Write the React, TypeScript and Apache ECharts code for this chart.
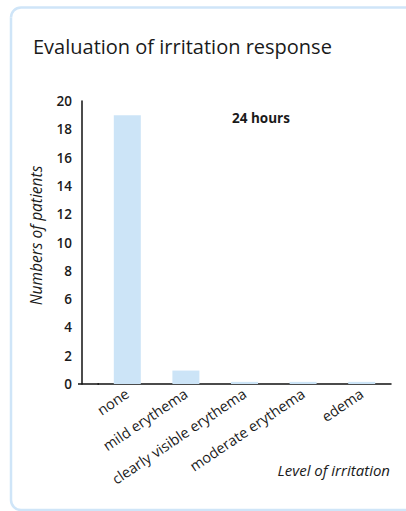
import React, { useEffect, useRef } from "react";
import * as echarts from "echarts";

const categories = ["none", "mild erythema", "clearly visible erythema", "moderate erythema", "edema"];
const patients = [19, 0.95, 0.15, 0.15, 0.15];
const yTicks = [0, 2, 4, 6, 8, 10, 12, 14, 16, 18, 20];

const FONT = "'Open Sans', 'Noto Sans', sans-serif";
const BORDER = "#cfe5f8";

export default function App() {
  const ref = useRef<HTMLDivElement>(null);
  useEffect(() => {
    if (!ref.current) return;
    const chart = echarts.init(ref.current, null, { renderer: "svg" });
    const borderStyle = { stroke: BORDER, lineWidth: 2.5, fill: "none" };
    chart.setOption({
      animation: false,
      backgroundColor: "#ffffff",
      textStyle: { fontFamily: FONT },
      title: {
        text: "Evaluation of irritation response",
        left: 28,
        top: 31,
        textStyle: { fontFamily: FONT, fontSize: 20, fontWeight: 500, color: "#1a1a1a" },
      },
      grid: { left: 98, right: 15, top: 101, bottom: 127, containLabel: false },
      xAxis: {
        type: "category",
        data: categories,
        axisLine: { show: true, lineStyle: { color: "#111", width: 1.5 } },
        axisTick: { show: false },
        axisLabel: {
          rotate: 34,
          interval: 0,
          margin: 8,
          fontSize: 14.5,
          fontFamily: FONT,
          color: "#1a1a1a",
        },
      },
      yAxis: {
        type: "value",
        min: 0,
        max: yTicks[yTicks.length - 1],
        interval: 2,
        offset: 16,
        axisLine: { show: true, lineStyle: { color: "#111", width: 1.5 } },
        axisTick: { show: false },
        splitLine: { show: false },
        axisLabel: {
          margin: 10,
          fontSize: 13.5,
          fontWeight: 600,
          fontFamily: FONT,
          color: "#1a1a1a",
        },
        name: "Numbers of patients",
        nameLocation: "middle",
        nameRotate: 90,
        nameGap: 38,
        nameTextStyle: {
          fontSize: 15.5,
          fontStyle: "italic",
          fontFamily: FONT,
          color: "#1a1a1a",
          padding: [0, 0, 0, 14],
        },
      },
      series: [
        {
          type: "bar",
          data: patients,
          barWidth: 27,
          itemStyle: { color: "#cce4f7" },
        },
      ],
      graphic: [
        { type: "line", shape: { x1: 21, y1: 7.5, x2: 420, y2: 7.5 }, style: borderStyle },
        { type: "line", shape: { x1: 11, y1: 17.5, x2: 11, y2: 500 }, style: borderStyle },
        {
          type: "arc",
          shape: { cx: 21, cy: 17.5, r: 10, startAngle: Math.PI, endAngle: Math.PI * 1.5 },
          style: borderStyle,
        },
        {
          type: "arc",
          shape: { cx: 21, cy: 500, r: 10, startAngle: Math.PI / 2, endAngle: Math.PI },
          style: borderStyle,
        },
        { type: "line", shape: { x1: 21, y1: 510, x2: 420, y2: 510 }, style: borderStyle },
        {
          type: "line",
          shape: { x1: 78, y1: 384, x2: 99, y2: 384 },
          style: { stroke: "#111", lineWidth: 1.5 },
        },
        {
          type: "text",
          left: 232,
          top: 111,
          style: { text: "24 hours", fontSize: 13.5, fontWeight: "bold", fontFamily: FONT, fill: "#1a1a1a" },
        },
        {
          type: "text",
          right: 16,
          top: 462,
          style: { text: "Level of irritation", fontSize: 15, fontStyle: "italic", fontFamily: FONT, fill: "#1a1a1a" },
        },
      ],
    });
    return () => chart.dispose();
  }, []);
  return (
    <div
      ref={ref}
      style={{ position: "fixed", left: 0, top: 0, width: 406, height: 511 }}
    />
  );
}
